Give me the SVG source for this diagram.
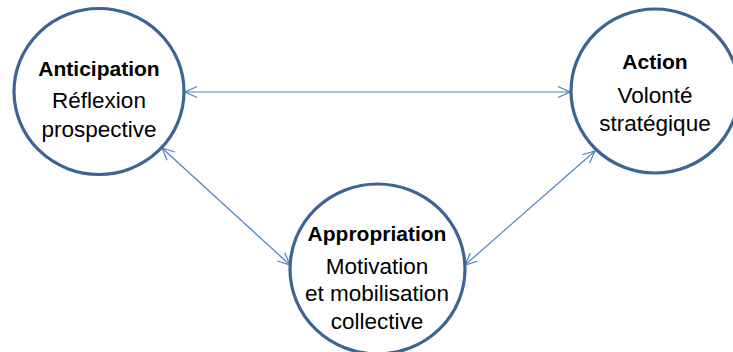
<svg xmlns="http://www.w3.org/2000/svg" width="733" height="352" viewBox="0 0 733 352">
<defs>
<marker id="ah" viewBox="0 0 14 14" refX="13" refY="7" markerWidth="14" markerHeight="14" markerUnits="userSpaceOnUse" orient="auto-start-reverse">
<path d="M1,1.5 L13,7 L1,12.5" fill="none" stroke="#4F81BD" stroke-width="1.2"/>
</marker>
</defs>
<style>
.node{fill:#FFFFFF;stroke:#3C6494;stroke-width:3.2}
.conn{fill:none;stroke:#4F81BD;stroke-width:1.2;marker-start:url(#ah);marker-end:url(#ah)}
text{font-family:"Liberation Sans",Arial,sans-serif;fill:#000000;text-anchor:middle}
.t{font-weight:bold;font-size:21px}
.s{font-size:22.5px}
</style>
<rect width="733" height="352" fill="#FFFFFF"/>
<g id="connectors">
<line class="conn" x1="185" y1="92" x2="570" y2="92"/>
<line class="conn" x1="162" y1="148" x2="290" y2="265"/>
<line class="conn" x1="595" y1="151" x2="465" y2="265"/>
</g>
<g id="anticipation">
<ellipse class="node" cx="99" cy="91.5" rx="85" ry="83"/>
<text class="t" x="99" y="76">Anticipation</text>
<text class="s" x="99" y="108">Réflexion</text>
<text class="s" x="99" y="137">prospective</text>
</g>
<g id="action">
<ellipse class="node" cx="655" cy="91" rx="84" ry="82"/>
<text class="t" x="655" y="69">Action</text>
<text class="s" x="655" y="103">Volonté</text>
<text class="s" x="655" y="131">stratégique</text>
</g>
<g id="appropriation">
<ellipse class="node" cx="377.5" cy="269" rx="87.5" ry="85"/>
<text class="t" x="377" y="241">Appropriation</text>
<text class="s" x="377" y="274">Motivation</text>
<text class="s" x="377" y="301">et mobilisation</text>
<text class="s" x="377" y="329">collective</text>
</g>
</svg>
